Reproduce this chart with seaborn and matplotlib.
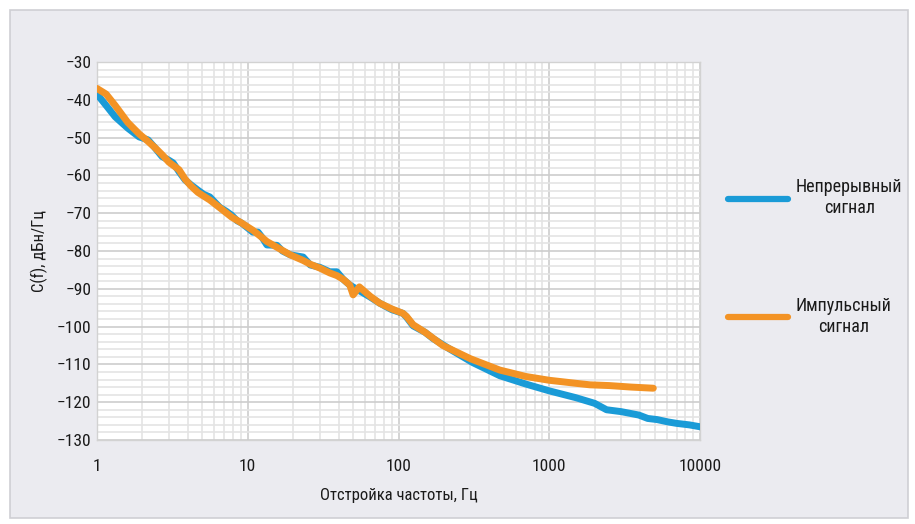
import matplotlib
matplotlib.use("Agg")
import matplotlib.pyplot as plt
from matplotlib.patches import Rectangle
from matplotlib.ticker import LogLocator, FixedLocator, NullFormatter
import seaborn as sns
import pandas as pd

# Непрерывный сигнал (blue)
freq_cont = [1, 1.15, 1.32, 1.6, 1.9, 2.18, 2.4, 2.7, 3.0, 3.2, 3.5, 3.84, 4.2, 4.67,
             5.1, 5.6, 6.5, 7.2, 7.8, 8.5, 9.1, 10.8, 11.7, 12.5, 13.4, 15.6, 17,
             19.1, 23.3, 26, 30, 35, 39, 43, 47.5, 55, 65, 75, 90, 107, 113, 125,
             150, 170, 220, 310, 470, 700, 1000, 1500, 2000, 2400, 3000, 3930,
             4500, 5200, 6100, 7000, 8500, 10000]
val_cont = [-38.5, -41.5, -44.5, -47.5, -49.8, -50.6, -52.5, -55, -56, -56.7, -59,
            -61.2, -62.5, -63.9, -65, -65.7, -68.4, -69.5, -70.5, -72, -72.6, -75,
            -75, -76.5, -78.4, -78.5, -80, -81, -81.6, -83.7, -84.3, -85.5, -85.5,
            -87.5, -89, -90.5, -92.2, -93.8, -95.5, -96.5, -97.5, -99.8, -101.5,
            -103.2, -106, -109.5, -113, -115.2, -117, -118.8, -120.3, -122, -122.5,
            -123.4, -124.3, -124.6, -125.2, -125.6, -126, -126.5]

# Импульсный сигнал (orange)
freq_pulse = [1, 1.15, 1.32, 1.6, 1.9, 2.18, 2.4, 2.7, 3.0, 3.5, 3.84, 4.2, 4.67,
              5.6, 6.5, 7.8, 9.1, 10.8, 12.5, 13.4, 15.6, 19.1, 23.3, 26, 30, 35,
              39, 43, 47.5, 50, 55, 65, 75, 90, 107, 113, 125, 150, 197, 300, 470,
              700, 1000, 1500, 1860, 2500, 3500, 4900]
val_pulse = [-37, -38.5, -41.5, -46, -49, -51, -52.5, -54.5, -56.5, -58.5, -61,
             -62.8, -64.5, -66.5, -68.5, -71, -72.6, -74.5, -76.5, -77.5, -79, -81,
             -82.5, -83.5, -84.5, -85.8, -86.5, -87.5, -89, -91.6, -89.5, -92,
             -93.8, -95.3, -96.5, -97.3, -99.5, -101.5, -105, -108.5, -111.5,
             -113.2, -114.2, -115, -115.4, -115.6, -116, -116.3]

labels = ["Непрерывный\nсигнал", "Импульсный\nсигнал"]
colors = ["#1a9bd7", "#f39325"]
x_ticks = [1, 10, 100, 1000, 10000]
y_ticks = list(range(-130, -29, 10))

df_cont = pd.DataFrame({"f": freq_cont, "v": val_cont})
df_pulse = pd.DataFrame({"f": freq_pulse, "v": val_pulse})

sns.set_theme(style="white")
plt.rcParams["font.family"] = ["Roboto Condensed", "Liberation Sans Narrow", "Roboto", "DejaVu Sans"]

fig = plt.figure(figsize=(9.15, 5.24), dpi=100, facecolor="white")
fig.patches.append(Rectangle((10 / 915, 6 / 524), 898 / 915, 508 / 524,
                             transform=fig.transFigure, facecolor="#ebebf0",
                             edgecolor="#cfcfd4", linewidth=1.2, zorder=-10))
ax = fig.add_axes([97 / 915, 1 - 440 / 524, 603 / 915, 378 / 524])
ax.set_facecolor("white")

sns.lineplot(data=df_cont, x="f", y="v", ax=ax, color=colors[0], linewidth=5,
             label=labels[0], solid_capstyle="round", zorder=3)
sns.lineplot(data=df_pulse, x="f", y="v", ax=ax, color=colors[1], linewidth=5,
             label=labels[1], solid_capstyle="round", zorder=4)

ax.set_xscale("log")
ax.set_xlim(1, 10000)
ax.set_ylim(-130, -30)
ax.xaxis.set_major_locator(FixedLocator(x_ticks))
ax.set_xticklabels([str(t) for t in x_ticks])
ax.xaxis.set_minor_locator(LogLocator(base=10, subs=range(2, 10)))
ax.xaxis.set_minor_formatter(NullFormatter())
ax.set_yticks(y_ticks)
ax.set_yticks(range(-130, -29, 2), minor=True)

ax.grid(which="major", color="#cdcdcd", linewidth=1.2)
ax.grid(which="minor", color="#e4e4e4", linewidth=1.2)
ax.set_axisbelow(True)
for s in ax.spines.values():
    s.set_color("#d2d2d2")
    s.set_linewidth(1)

ax.tick_params(axis="both", which="both", length=0, labelsize=12.5, colors="#1a1a1a")
ax.tick_params(axis="x", pad=14)
ax.tick_params(axis="y", pad=4)

ax.set_xlabel("Отстройка частоты, Гц", fontsize=12, color="#1a1a1a", labelpad=10)
ax.set_ylabel("C(f), дБн/Гц", fontsize=12, color="#1a1a1a", labelpad=6)

leg = ax.legend(loc="center left", bbox_to_anchor=(712 / 915, 1 - 257 / 524),
                bbox_transform=fig.transFigure, frameon=False, fontsize=13,
                handlelength=3.3, handletextpad=0.45, labelspacing=4.4)
for line in leg.get_lines():
    line.set_linewidth(4.5)
for t in leg.get_texts():
    t.set_multialignment("center")
    t.set_color("#1a1a1a")

fig.savefig("out.png", dpi=100, facecolor=fig.get_facecolor())
